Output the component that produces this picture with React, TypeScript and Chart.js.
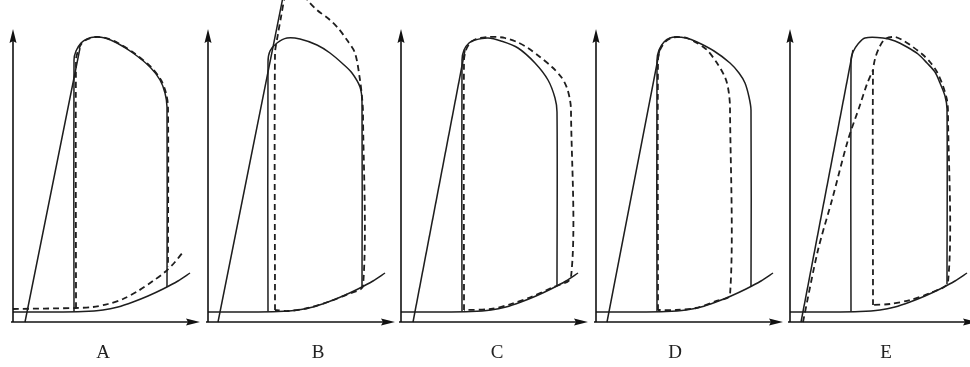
import React, { useEffect, useRef } from 'react';
import { Chart, registerables } from 'chart.js';

Chart.register(...registerables);

type Pt = [number, number];

// ---- data (volume, pressure) in each panel's own units ----
const PANEL_LABELS = ['A', 'B', 'C', 'D', 'E'];

const X_AXIS: Pt[] = [[-2, 0], [180, 0]];
const Y_AXIS: Pt[] = [[0, 0], [0, 286]];
const X_AXIS_E: Pt[] = [[-2, 0], [180, 0]];

// end-diastolic pressure-volume relation (same in every panel)
const EDPVR: Pt[] = [[0, 10], [40, 10], [70, 10.5], [90, 12], [105, 15], [120, 20], [135, 26], [150, 33], [165, 41], [177, 49]];

// Panel A
const A_ESPVR: Pt[] = [[12, 0], [67, 274]];
const A_LOOP: Pt[] = [[61, 10.5], [61, 262], [63, 271], [68, 279], [74, 283], [82, 285], [92, 284], [104, 279], [120, 269], [137, 255], [147, 242], [152, 229], [154, 215], [154, 35]];
const A_DASH_LOOP: Pt[] = [[63, 14], [63, 262], [65, 271], [69, 279], [75, 283], [83, 285], [93, 284], [105, 279], [121, 269], [138, 255], [148, 242], [153, 229], [155, 215], [155, 55]];
const A_DASH_EDPVR: Pt[] = [[0, 13], [63, 14], [80, 15], [95, 18], [110, 23], [125, 31], [140, 41], [152, 50], [162, 60], [170, 70]];

// Panel B
const B_ESPVR: Pt[] = [[10, 0], [76, 330]];
const B_LOOP: Pt[] = [[60, 10.5], [60, 260], [62, 271], [69, 279], [79, 284], [92, 283], [109, 277], [122, 269], [135, 258], [144, 249], [152, 235], [154, 220], [154, 35]];
const B_DASH_LOOP: Pt[] = [[67, 12], [67, 268], [70, 288], [73, 305], [77, 325], [81, 331], [87, 334], [94, 330], [101, 320], [109, 312], [122, 302], [130, 294], [139, 282], [147, 269], [152, 242], [154, 225], [155, 210], [155, 36], [140, 28], [120, 20], [100, 14], [80, 11], [67, 12]];

// Panel C
const C_ESPVR: Pt[] = [[12, 0], [64, 272]];
const C_LOOP: Pt[] = [[61, 10.5], [61, 262], [63, 272], [68, 279], [74, 282], [87, 284], [100, 281], [117, 274], [134, 259], [147, 242], [154, 224], [156, 210], [156, 36]];
const C_DASH_LOOP: Pt[] = [[63, 12], [63, 262], [65, 272], [69, 279], [75, 283], [87, 285], [96, 285], [104, 284], [116, 280], [127, 274], [139, 265], [151, 255], [161, 244], [166, 234], [169, 222], [170, 212], [170, 45], [150, 34], [130, 25], [110, 18], [90, 13], [63, 12]];

// Panel D
const D_ESPVR: Pt[] = [[11, 0], [64, 274]];
const D_LOOP: Pt[] = [[61, 10.5], [61, 262], [63, 272], [68, 280], [74, 284], [80, 285], [90, 284], [101, 280], [118, 271], [134, 259], [143, 249], [149, 239], [153, 225], [155, 212], [155, 35]];
const D_DASH_LOOP: Pt[] = [[62, 12], [62, 262], [64, 272], [69, 280], [75, 284], [81, 285], [91, 284], [101, 279], [111, 272], [121, 259], [128, 247], [131, 239], [133, 228], [134, 215], [134, 27], [120, 21], [100, 14], [80, 12], [62, 12]];

// Panel E
const E_ESPVR: Pt[] = [[11, 0], [63, 272]];
const E_LOOP: Pt[] = [[61, 10.5], [61, 262], [63, 270], [68, 278], [75, 284], [93, 284], [105, 281], [117, 275], [128, 268], [137, 259], [145, 250], [150, 239], [155, 226], [157, 213], [157, 38]];
const E_DASH_LOOP: Pt[] = [[83, 17], [83, 250], [85, 263], [89, 274], [95, 283], [105, 285], [114, 281], [123, 275], [132, 268], [140, 260], [147, 250], [153, 236], [157, 222], [158, 210], [158, 40], [140, 29], [120, 22], [100, 18], [83, 17]];
const E_DASH_ESPVR: Pt[] = [[13, 0], [28, 72], [42, 122], [58, 182], [70, 217], [77, 238], [83, 252]];

const SOLID_SERIES: Pt[][][] = [
  [EDPVR, A_ESPVR, A_LOOP],
  [EDPVR, B_ESPVR, B_LOOP],
  [EDPVR, C_ESPVR, C_LOOP],
  [EDPVR, D_ESPVR, D_LOOP],
  [EDPVR, E_ESPVR, E_LOOP],
];
const DASHED_SERIES: Pt[][][] = [
  [A_DASH_LOOP, A_DASH_EDPVR],
  [B_DASH_LOOP],
  [C_DASH_LOOP],
  [D_DASH_LOOP],
  [E_DASH_LOOP, E_DASH_ESPVR],
];
const X_AXES: Pt[][] = [X_AXIS, X_AXIS, X_AXIS, X_AXIS, X_AXIS_E];

// ---- layout ----
const ORIGIN_X = [13, 208, 401, 596, 790];
const LABEL_X = [103, 318, 497, 675, 886];
const CANVAS_W = 200;
const CANVAS_H = 367;
const PAD_LEFT = 11;
const AXIS_Y_PX = 322;

const INK = '#1e1e1e';

function makeArrow(): HTMLCanvasElement {
  const c = document.createElement('canvas');
  c.width = 14;
  c.height = 8;
  const g = c.getContext('2d')!;
  g.fillStyle = '#111';
  g.beginPath();
  g.moveTo(0, 0.5);
  g.lineTo(14, 4);
  g.lineTo(0, 7.5);
  g.lineTo(2, 4);
  g.closePath();
  g.fill();
  return c;
}

const toXY = (pts: Pt[]) => pts.map(([x, y]) => ({ x, y }));

function Panel({ index }: { index: number }) {
  const ref = useRef<HTMLCanvasElement | null>(null);
  useEffect(() => {
    if (!ref.current) return;
    const arrow = makeArrow();
    const axisDs = (pts: Pt[], rot: number) => ({
      data: toXY(pts),
      showLine: true,
      borderColor: '#111',
      borderWidth: 1.6,
      pointRadius: [0, 7],
      pointStyle: arrow,
      pointRotation: rot,
      tension: 0,
    });
    const datasets: any[] = [
      axisDs(X_AXES[index], 0),
      axisDs(Y_AXIS, -90),
      ...SOLID_SERIES[index].map((pts) => ({
        data: toXY(pts),
        showLine: true,
        borderColor: INK,
        borderWidth: 1.5,
        pointRadius: 0,
        tension: 0.3,
      })),
      ...DASHED_SERIES[index].map((pts) => ({
        data: toXY(pts),
        showLine: true,
        borderColor: INK,
        borderWidth: 1.8,
        borderDash: [6, 4],
        pointRadius: 0,
        tension: 0.3,
      })),
    ];
    const chart = new Chart(ref.current, {
      type: 'scatter',
      data: { datasets },
      options: {
        animation: false,
        responsive: false,
        events: [],
        layout: { padding: 0, autoPadding: false },
        plugins: {
          legend: { display: false },
          tooltip: { enabled: false },
          title: { display: false },
        },
        scales: {
          x: { type: 'linear', min: -PAD_LEFT, max: CANVAS_W - PAD_LEFT, display: false },
          y: { type: 'linear', min: AXIS_Y_PX - CANVAS_H, max: AXIS_Y_PX, display: false },
        },
      },
    });
    return () => chart.destroy();
  }, [index]);

  return (
    <>
      <canvas
        ref={ref}
        width={CANVAS_W}
        height={CANVAS_H}
        style={{ position: 'absolute', left: ORIGIN_X[index] - PAD_LEFT, top: 0, width: CANVAS_W, height: CANVAS_H }}
      />
      <div
        style={{
          position: 'absolute',
          left: LABEL_X[index] - 20,
          top: 340,
          width: 40,
          textAlign: 'center',
          fontFamily: '"Liberation Serif", "DejaVu Serif", serif',
          fontSize: 19,
          lineHeight: '24px',
          color: '#222',
        }}
      >
        {PANEL_LABELS[index]}
      </div>
    </>
  );
}

export default function App() {
  return (
    <div
      style={{
        position: 'absolute',
        left: 0,
        top: 0,
        width: 970,
        height: 367,
        overflow: 'hidden',
        background: '#fff',
      }}
    >
      {PANEL_LABELS.map((_, i) => (
        <Panel key={i} index={i} />
      ))}
    </div>
  );
}
